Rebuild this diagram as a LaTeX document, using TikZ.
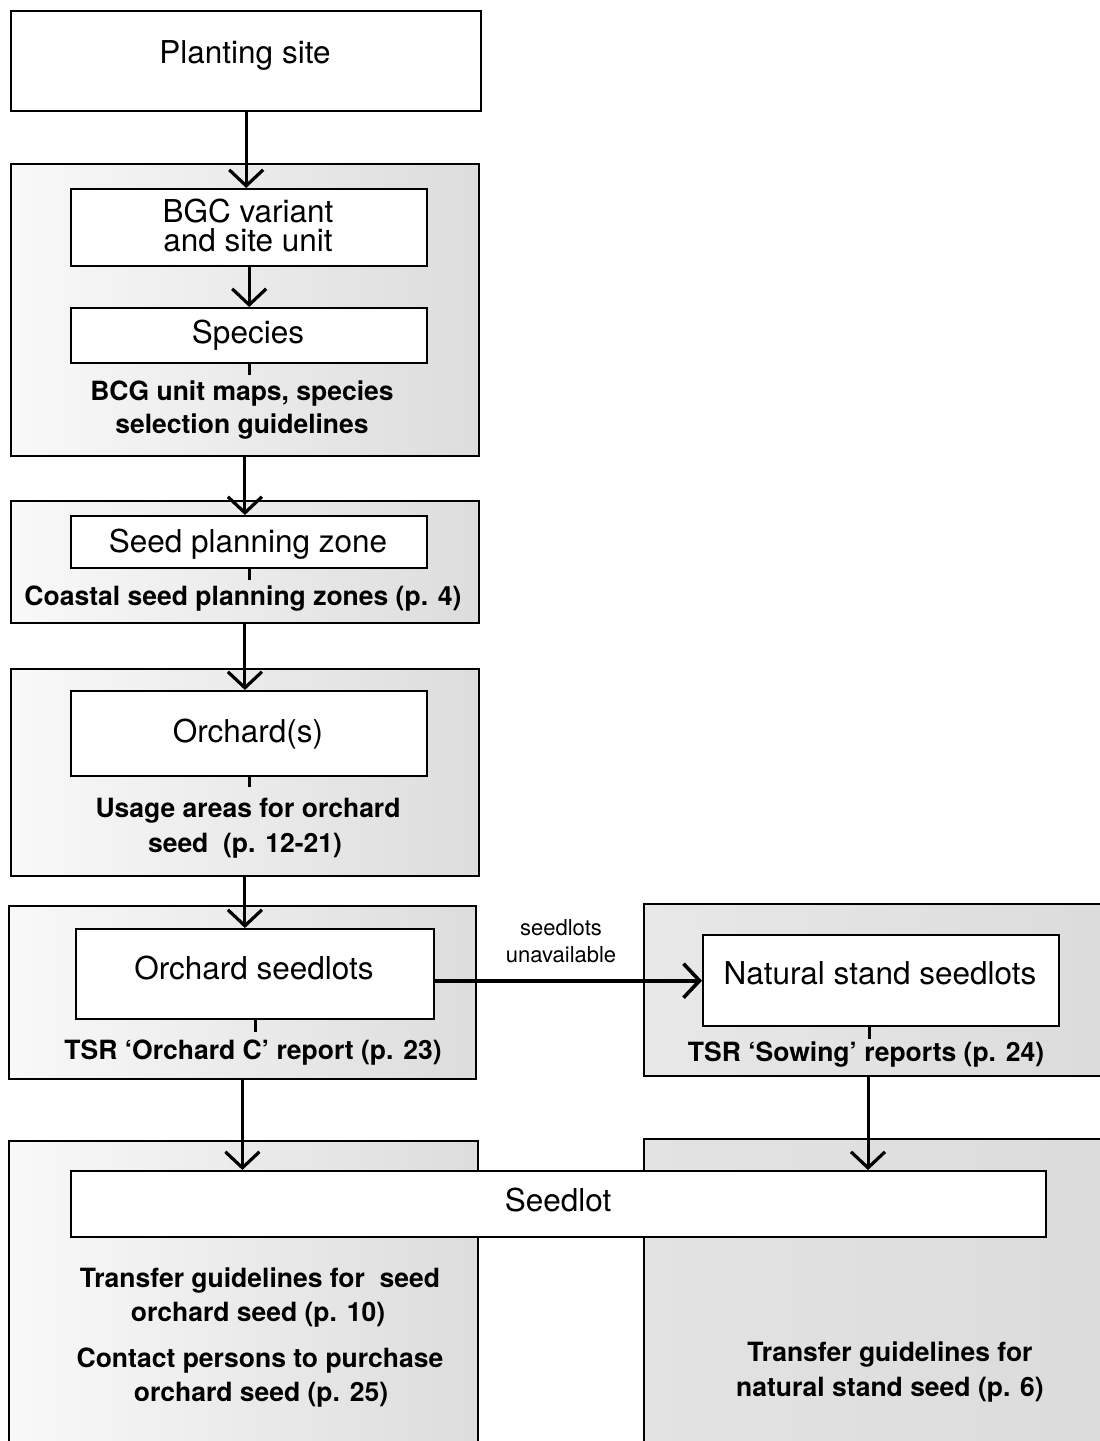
\documentclass[tikz,border=0pt]{standalone}
\usepackage{fontspec}
\setmainfont{TeX Gyre Heros}
\usetikzlibrary{arrows.meta}
\tikzset{
  grp/.style={draw, line width=1.8pt, left color=gray!5, right color=gray!27, inner sep=0pt, anchor=north west},
  grpdark/.style={draw, line width=1.8pt, left color=gray!18, right color=gray!28, inner sep=0pt, anchor=north west},
  whitebox/.style={draw, line width=2.4pt, fill=white, inner sep=0pt, anchor=north west},
  big/.style={font=\fontsize{31.5}{36}\selectfont, anchor=base, inner sep=0pt},
  reftext/.style={font=\bfseries\fontsize{26.5}{30}\selectfont, anchor=base, inner sep=0pt},
  small/.style={font=\fontsize{22}{26}\selectfont, anchor=base, inner sep=0pt},
  arr/.style={line width=3pt, -{Straight Barb[length=16pt,width=34pt,line width=3.2pt]}},
  harr/.style={line width=4pt, -{Straight Barb[length=16pt,width=34pt,line width=3.6pt]}},
  ticky/.style={line width=3pt}
}
\begin{document}
\begin{tikzpicture}[x=1pt,y=-1pt]
\useasboundingbox (0,0) rectangle (1100,1441);
\clip (0,0) rectangle (1100,1441);
\fill[white] (0,0) rectangle (1100,1441);

% group backgrounds
\node[grp, minimum width=468pt, minimum height=292pt] (g1) at (10,163) {};
\node[grp, minimum width=468pt, minimum height=122pt] (g2) at (10,500) {};
\node[grp, minimum width=468pt, minimum height=207pt] (g3) at (10,668) {};
\node[grp, minimum width=467pt, minimum height=173pt] (g4) at (8,905) {};
\node[grpdark, minimum width=470pt, minimum height=172pt] (g5) at (643,903) {};
\node[grp, minimum width=469pt, minimum height=320pt] (g6) at (8,1140) {};
\node[grpdark, left color=gray!22, minimum width=470pt, minimum height=320pt] (g7) at (643,1138) {};

% white boxes
\node[whitebox, minimum width=470pt, minimum height=100pt] (b0) at (10,10) {};
\node[whitebox, minimum width=356pt, minimum height=77pt] (b1) at (70,188) {};
\node[whitebox, minimum width=356pt, minimum height=55pt] (b2) at (70,307) {};
\node[whitebox, minimum width=356pt, minimum height=52pt] (b3) at (70,515) {};
\node[whitebox, minimum width=356pt, minimum height=85pt] (b4) at (70,690) {};
\node[whitebox, minimum width=358pt, minimum height=90pt] (b5) at (75,928) {};
\node[whitebox, minimum width=356pt, minimum height=91pt] (b6) at (702,934) {};
\node[whitebox, minimum width=975pt, minimum height=66pt] (b7) at (70,1170) {};

% box texts
\node[big] (t0) at (245,63) {Planting site};
\node[big] (t1a) at (248,222) {BGC variant};
\node[big] (t1b) at (248,251) {and site unit};
\node[big] (t2) at (248,343) {Species};
\node[big] (t3) at (248,552) {Seed planning zone};
\node[big] (t4) at (248,742) {Orchard(s)};
\node[big] (t5) at (254,979) {Orchard seedlots};
\node[big] (t6) at (880,984) {Natural stand seedlots};
\node[big] (t7) at (558,1211) {Seedlot};

% reference texts
\node[reftext] (r1a) at (242,400) {BCG unit maps, species};
\node[reftext] (r1b) at (242,433) {selection guidelines};
\node[reftext] (r2) at (243,605) {Coastal seed planning zones (p. 4)};
\node[reftext] (r3a) at (248,817) {Usage areas for orchard};
\node[reftext] (r3b) at (245,852) {seed\ \ (p. 12-21)};
\node[reftext] (r4) at (253,1059) {TSR `Orchard C' report (p. 23)};
\node[reftext] (r5) at (866,1061) {TSR `Sowing' reports (p. 24)};
\node[reftext] (r6a) at (260,1287) {Transfer guidelines for\ \ seed};
\node[reftext] (r6b) at (258,1321) {orchard seed (p. 10)};
\node[reftext] (r6c) at (260,1367) {Contact persons to purchase};
\node[reftext] (r6d) at (261,1401) {orchard seed (p. 25)};
\node[reftext] (r7a) at (890,1361) {Transfer guidelines for};
\node[reftext] (r7b) at (890,1396) {natural stand seed (p. 6)};

% connector label
\node[small] (l1) at (561,935) {seedlots};
\node[small] (l2) at (561,962) {unavailable};

% ticks under boxes
\draw[ticky] (b2.south) -- ++(0,11);
\draw[ticky] (b3.south) -- ++(0,11);
\draw[ticky] (b4.south) -- ++(0,10);
\draw[ticky] (b5.south) -- ++(0,12);
\draw[ticky] (b6.south) ++(-12,0) -- ++(0,12);

% arrows
\draw[arr] (b0.south) -- (b0.south |- b1.north);
\draw[arr] (b1.south) -- (b2.north);
\draw[arr] (g1.south) -- (g1.south |- b3.north);
\draw[arr] (g2.south) -- (g2.south |- b4.north);
\draw[arr] (g3.south) -- (g3.south |- b5.north);
\draw[harr] (b6.west -| b5.east) -- (b6.west);
\draw[arr] (g4.south) -- (g4.south |- b7.north);
\coordinate (c5) at (868,1075);
\draw[ticky] (g5.south -| c5) -- (c5);
\draw[arr] (c5) -- (c5 |- b7.north);
\end{tikzpicture}
\end{document}
